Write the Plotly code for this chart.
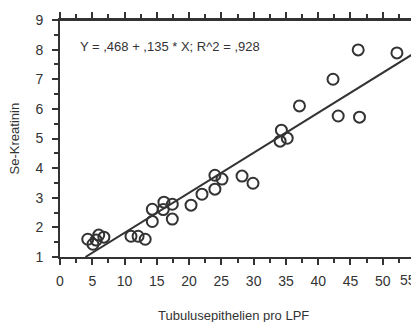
import plotly.graph_objects as go

# Data
tubulus = [4.3, 5.1, 5.6, 6.0, 6.8, 11.0, 12.1, 13.2,
           14.3, 14.3, 16.1, 16.0, 17.4, 17.4, 20.3, 22.0,
           24.0, 25.1, 24.0, 28.2, 29.9,
           34.3, 34.1, 35.2, 37.1, 42.3, 43.1, 46.4, 46.2, 52.2]
kreatinin = [1.6, 1.43, 1.57, 1.74, 1.67, 1.7, 1.7, 1.6,
             2.61, 2.2, 2.85, 2.6, 2.78, 2.28, 2.75, 3.12,
             3.76, 3.63, 3.29, 3.73, 3.49,
             5.28, 4.91, 5.01, 6.1, 7.0, 5.76, 5.72, 7.99, 7.89]

intercept = 0.468
slope = 0.135
fit_x = [3.94, 55]
fit_y = [intercept + slope * v for v in fit_x]

x_ticks = [0, 5, 10, 15, 20, 25, 30, 35, 40, 45, 50, 55]
x_tick_labels = ["0", "5", "10", "15", "20", "25", "30", "35", "40", "45", "50", "55"]
y_ticks = [1, 2, 3, 4, 5, 6, 7, 8, 9]
x_range = [0, 55]
y_range = [1, 9]

ink = "#333333"
font = "Liberation Sans, Arial, sans-serif"

# the last x label is placed as right-aligned text so it stays inside the window
x_tick_text = x_tick_labels[:-1] + [""]

fig = go.Figure()
fig.add_trace(go.Scatter(x=fit_x, y=fit_y, mode="lines",
                         line=dict(color=ink, width=2), showlegend=False))
fig.add_trace(go.Scatter(x=tubulus, y=kreatinin, mode="markers",
                         marker=dict(symbol="circle-open", size=11,
                                     color=ink, line=dict(width=2, color=ink)),
                         showlegend=False))

tick_common = dict(ticks="outside", ticklen=6, tickwidth=2, tickcolor=ink,
                   showgrid=False, zeroline=False, automargin=False,
                   showline=True, linecolor=ink, linewidth=2, mirror="ticks")

fig.update_layout(
    xaxis=dict(range=x_range, tickvals=x_ticks, ticktext=x_tick_text,
               ticklabelstandoff=4, ticklabeloverflow="allow",
               tickfont=dict(family=font, size=14, color=ink),
               minor=dict(dtick=2.5, ticks="outside", ticklen=4, tickwidth=2,
                          tickcolor=ink, showgrid=False),
               **tick_common),
    yaxis=dict(range=y_range, tickvals=y_ticks, ticklabelstandoff=6,
               ticklabeloverflow="allow",
               tickfont=dict(family=font, size=14, color=ink),
               minor=dict(dtick=0.5, ticks="outside", ticklen=4, tickwidth=2,
                          tickcolor=ink, showgrid=False),
               **tick_common),
)

# frame on top and right
fig.add_shape(type="line", xref="paper", yref="paper", x0=0, x1=1, y0=1, y1=1,
              line=dict(color=ink, width=2))
fig.add_shape(type="line", xref="paper", yref="paper", x0=1, x1=1, y0=0, y1=1,
              line=dict(color=ink, width=2))

fig.add_annotation(text=x_tick_labels[-1], xref="x", yref="paper",
                   x=x_ticks[-1], y=-0.097, xanchor="right", yanchor="middle",
                   xshift=3, showarrow=False,
                   font=dict(family=font, size=14, color=ink))
fig.add_annotation(text="Y = ,468 + ,135 * X; R^2 = ,928", xref="paper", yref="paper",
                   x=0.05, y=0.89, xanchor="left", yanchor="middle", showarrow=False,
                   font=dict(family=font, size=13, color=ink))
fig.add_annotation(text="Se-Kreatinin", xref="paper", yref="paper",
                   x=-0.127, y=0.5, xanchor="center", yanchor="middle", textangle=-90,
                   showarrow=False, font=dict(family=font, size=13, color=ink))
fig.add_annotation(text="Tubulusepithelien pro LPF", xref="paper", yref="paper",
                   x=0.49, y=-0.245, xanchor="center", yanchor="middle",
                   showarrow=False, font=dict(family=font, size=13, color=ink))

# page body adds an 8px margin; size the figure so the plot area lands where the reference has it
fig.update_layout(width=411, height=314, margin=dict(l=52, r=4, t=12, b=65),
                  paper_bgcolor="white", plot_bgcolor="white")

fig.write_html("out.html")
